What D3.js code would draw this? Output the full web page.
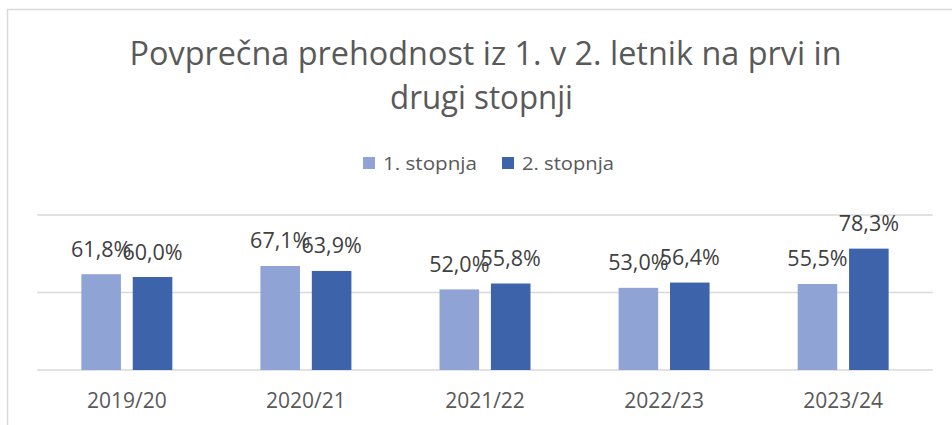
<!DOCTYPE html>
<html><head><meta charset="utf-8">
<script src="https://cdn.jsdelivr.net/npm/d3@7"></script>
<style>html,body{margin:0;padding:0;background:#fff;}svg{display:block;}</style>
</head><body>
<svg id="chart" width="952" height="425"></svg>
<script>
const categories = ["2019/20", "2020/21", "2021/22", "2022/23", "2023/24"];
const seriesNames = ["1. stopnja", "2. stopnja"];
const stopnja1 = [61.8, 67.1, 52.0, 53.0, 55.5];
const stopnja2 = [60.0, 63.9, 55.8, 56.4, 78.3];
const yTicks = [0, 50, 100];
const titleLines = ["Povprečna prehodnost iz 1. v 2. letnik na prvi in", "drugi stopnji"];
const colors = ["#8FA3D4", "#3D64AB"];

const values = [stopnja1, stopnja2];
const FONT = "'Open Sans', 'Noto Sans', sans-serif";
const svg = d3.select("#chart");

// border
svg.append("path").attr("d", "M7.5,425 V9.5 H952").attr("fill", "none")
  .attr("stroke", "#d9d9d9").attr("stroke-width", 1.5);

function fitText(sel, w) {
  sel.attr("textLength", w).attr("lengthAdjust", "spacingAndGlyphs");
}

// title
const t1 = svg.append("text").attr("x", 485.5).attr("y", 65).attr("text-anchor", "middle")
  .attr("font-family", FONT).attr("font-size", 32).attr("fill", "#595959").text(titleLines[0]);
fitText(t1, 712);
const t2 = svg.append("text").attr("x", 481.5).attr("y", 109.3).attr("text-anchor", "middle")
  .attr("font-family", FONT).attr("font-size", 32).attr("fill", "#595959").text(titleLines[1]);
fitText(t2, 183);

// legend
const legX = [363, 502];
const legW = [94, 92];
seriesNames.forEach((s, i) => {
  svg.append("rect").attr("x", legX[i]).attr("y", 157).attr("width", 12).attr("height", 12).attr("fill", colors[i]);
  const lt = svg.append("text").attr("x", legX[i] + 20).attr("y", 170).attr("font-family", FONT)
    .attr("font-size", 19).attr("fill", "#595959").text(s);
  fitText(lt, legW[i]);
});

// scales
const x0 = d3.scaleBand().domain(categories).range([37.3, 932.7]).paddingInner(0.492).paddingOuter(0.246);
const x1 = d3.scaleBand().domain(seriesNames).range([0, x0.bandwidth()]).paddingInner(0.23);
const y = d3.scaleLinear().domain([0, 100]).range([370, 215]);

// gridlines
svg.append("g").selectAll("line").data(yTicks).join("line")
  .attr("x1", 37.3).attr("x2", 932.7).attr("y1", d => y(d)).attr("y2", d => y(d))
  .attr("stroke", "#d9d9d9").attr("stroke-width", 1.5);

// bars
const groups = svg.append("g").selectAll("g").data(categories).join("g")
  .attr("transform", d => `translate(${x0(d)},0)`);
groups.selectAll("rect").data((d, ci) => seriesNames.map((s, si) => ({s, si, v: values[si][ci]})))
  .join("rect")
  .attr("x", d => x1(d.s)).attr("width", x1.bandwidth())
  .attr("y", d => y(d.v)).attr("height", d => y(0) - y(d.v))
  .attr("fill", d => colors[d.si]);

// data labels
groups.selectAll("text").data((d, ci) => seriesNames.map((s, si) => ({s, si, v: values[si][ci]})))
  .join("text")
  .attr("x", d => x1(d.s) + x1.bandwidth() / 2).attr("y", d => y(d.v) - 17.5)
  .attr("text-anchor", "middle").attr("font-family", FONT).attr("font-size", 21.5).attr("fill", "#404040")
  .text(d => d.v.toFixed(1).replace(".", ",") + "%");

// x axis labels
const xAxis = d3.axisBottom(x0).tickSize(0).tickPadding(0);
const ax = svg.append("g").attr("transform", "translate(0,370)").call(xAxis);
ax.select(".domain").remove();
ax.selectAll("text").attr("y", 38.3).attr("dy", null).attr("font-family", FONT).attr("font-size", 21)
  .attr("fill", "#595959");
</script>
</body></html>
